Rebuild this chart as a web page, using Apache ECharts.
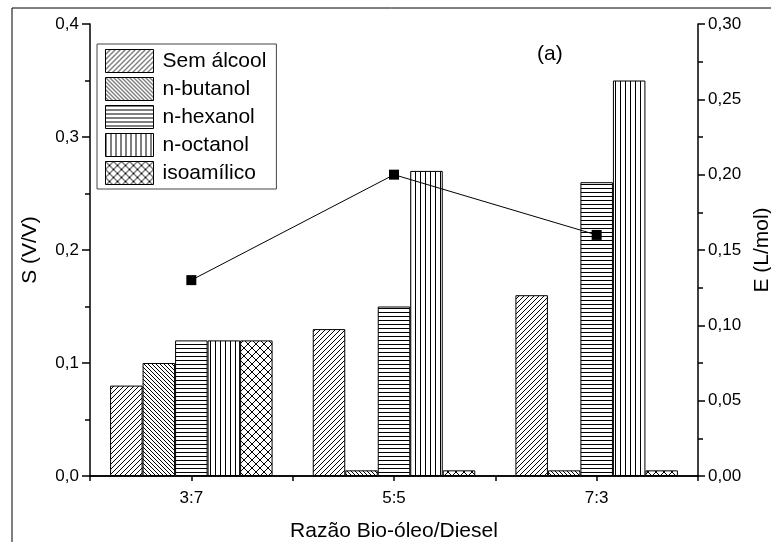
<!DOCTYPE html>
<html>
<head>
<meta charset="utf-8">
<script src="https://cdn.jsdelivr.net/npm/echarts@6/dist/echarts.min.js"></script>
<style>
	html, body { margin: 0; padding: 0; background: #fff; }
	#chart { width: 771px; height: 542px; }
</style>
</head>
<body>
<div id="chart"></div>
<script>
var categories = ['3:7', '5:5', '7:3'];
var semAlcool = [0.08, 0.13, 0.16];
var nButanol = [0.10, 0.005, 0.005];
var nHexanol = [0.12, 0.15, 0.26];
var nOctanol = [0.12, 0.27, 0.35];
var isoamilico = [0.12, 0.005, 0.005];
var eValues = [0.13, 0.20, 0.16];

var FONT = '"Liberation Sans", Arial, sans-serif';

// hachuras desenhadas num canvas pequeno e repetidas
function hatch(kind, p) {
	var c = document.createElement('canvas');
	c.width = p; c.height = p;
	var ctx = c.getContext('2d');
	ctx.fillStyle = '#fff';
	ctx.fillRect(0, 0, p, p);
	ctx.strokeStyle = '#000';
	ctx.lineWidth = 1;
	ctx.beginPath();
	if (kind == 'fwd' || kind == 'cross') {
		ctx.moveTo(-1, p + 1); ctx.lineTo(p + 1, -1);
		ctx.moveTo(-1, 1); ctx.lineTo(1, -1);
		ctx.moveTo(p - 1, p + 1); ctx.lineTo(p + 1, p - 1);
	}
	if (kind == 'back' || kind == 'cross') {
		ctx.moveTo(-1, -1); ctx.lineTo(p + 1, p + 1);
		ctx.moveTo(p - 1, -1); ctx.lineTo(p + 1, 1);
		ctx.moveTo(-1, p - 1); ctx.lineTo(1, p + 1);
	}
	if (kind == 'hor') {
		ctx.moveTo(0, 0.5); ctx.lineTo(p, 0.5);
	}
	if (kind == 'ver') {
		ctx.moveTo(0.5, 0); ctx.lineTo(0.5, p);
	}
	ctx.stroke();
	return { image: c, repeat: 'repeat' };
}

function barSeries(name, data, fill) {
	return {
		name: name,
		type: 'bar',
		data: data,
		barWidth: 32.5,
		barGap: '0%',
		itemStyle: { color: fill, borderColor: '#000', borderWidth: 1 },
		emphasis: { disabled: true }
	};
}

var axisLineStyle = { color: '#000', width: 1.5 };
var tickLabel = { color: '#000', fontSize: 17, fontFamily: FONT };

var chart = echarts.init(document.getElementById('chart'));
var option = {
	animation: false,
	backgroundColor: '#fff',
	grid: [
		{ left: 90, right: 73, top: 24, bottom: 66, outerBoundsMode: 'none' },
		{ left: 90, right: 73, top: 24, bottom: 66, outerBoundsMode: 'none' }
	],
	legend: {
		orient: 'vertical',
		left: 97,
		top: 44,
		padding: [5, 10, 4, 8],
		itemWidth: 48,
		itemHeight: 23,
		itemGap: 4,
		icon: 'rect',
		borderColor: '#444',
		borderWidth: 1,
		data: ['Sem álcool', 'n-butanol', 'n-hexanol', 'n-octanol', 'isoamílico'],
		textStyle: { color: '#000', fontSize: 21, fontFamily: FONT, padding: [0, 0, 0, 4] },
		itemStyle: { borderColor: '#000', borderWidth: 1 }
	},
	xAxis: [
		{
			type: 'category',
			data: categories,
			gridIndex: 0,
			position: 'bottom',
			name: 'Razão Bio-óleo/Diesel',
			nameLocation: 'middle',
			nameGap: 45,
			nameTextStyle: { color: '#000', fontSize: 21, fontFamily: FONT },
			axisLine: { lineStyle: axisLineStyle },
			axisTick: { alignWithLabel: true, length: 9, lineStyle: axisLineStyle },
			axisLabel: Object.assign({ margin: 14 }, tickLabel),
			splitLine: { show: false }
		},
		{
			type: 'value',
			gridIndex: 0,
			position: 'top',
			min: 0, max: 3, interval: 0.5,
			axisLine: { show: true, lineStyle: axisLineStyle },
			axisTick: { show: true, inside: true, length: 5, lineStyle: axisLineStyle },
			axisLabel: { show: false },
			splitLine: { show: false }
		},
		{
			type: 'value',
			gridIndex: 1,
			position: 'bottom',
			min: 0, max: 3, interval: 0.5,
			axisLine: { show: false },
			axisTick: { show: true, length: 4, lineStyle: axisLineStyle },
			axisLabel: { show: false },
			splitLine: { show: false }
		}
	],
	yAxis: [
		{
			type: 'value',
			gridIndex: 0,
			min: 0, max: 0.4, interval: 0.1,
			name: 'S (V/V)',
			nameLocation: 'middle',
			nameGap: 49,
			nameTextStyle: { color: '#000', fontSize: 21, fontFamily: FONT },
			axisLine: { show: true, lineStyle: axisLineStyle },
			axisTick: { show: true, length: 8, lineStyle: axisLineStyle },
			minorTick: { show: true, splitNumber: 2, length: 5, lineStyle: { color: '#000', width: 1.5 } },
			axisLabel: Object.assign({ margin: 11, formatter: function(v) { return v.toFixed(1).replace('.', ','); } }, tickLabel),
			splitLine: { show: false }
		},
		{
			type: 'value',
			gridIndex: 0,
			position: 'right',
			min: 0, max: 0.3, interval: 0.05,
			name: 'E (L/mol)',
			nameLocation: 'middle',
			nameGap: 54,
			nameTextStyle: { color: '#000', fontSize: 21, fontFamily: FONT },
			axisLine: { show: true, lineStyle: axisLineStyle },
			axisTick: { show: true, length: 7, lineStyle: axisLineStyle },
			minorTick: { show: true, splitNumber: 2, length: 5, lineStyle: { color: '#000', width: 1.5 } },
			axisLabel: Object.assign({ margin: 10, formatter: function(v) { return v.toFixed(2).replace('.', ','); } }, tickLabel),
			splitLine: { show: false }
		},
		{
			type: 'value',
			gridIndex: 1,
			show: false
		}
	],
	series: [
		barSeries('Sem álcool', semAlcool, hatch('fwd', 5)),
		barSeries('n-butanol', nButanol, hatch('back', 4)),
		barSeries('n-hexanol', nHexanol, hatch('hor', 4)),
		barSeries('n-octanol', nOctanol, hatch('ver', 5)),
		barSeries('isoamílico', isoamilico, hatch('cross', 8)),
		{
			name: 'E',
			type: 'line',
			yAxisIndex: 1,
			data: eValues,
			symbol: 'rect',
			symbolSize: 10,
			z: 5,
			itemStyle: { color: '#000' },
			lineStyle: { color: '#000', width: 1 },
			emphasis: { disabled: true }
		}
	],
	graphic: [
		{
			type: 'polyline',
			shape: { points: [[12, 542], [12, 8], [771, 8]] },
			style: { stroke: '#000', lineWidth: 1, fill: null },
			silent: true
		},
		{
			type: 'text',
			left: 537,
			top: 44,
			style: { text: '(a)', fill: '#000', fontSize: 21, fontFamily: FONT }
		}
	]
};
chart.setOption(option);
</script>
</body>
</html>
